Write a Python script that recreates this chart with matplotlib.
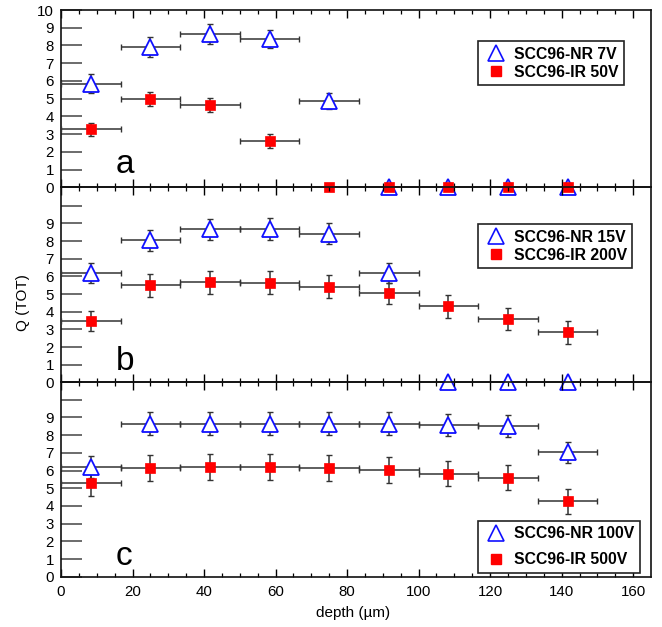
import numpy as np
import matplotlib
matplotlib.use("Agg")
import matplotlib.pyplot as plt
from matplotlib.lines import Line2D
from matplotlib.ticker import MultipleLocator, FixedLocator

plt.rcParams['font.family'] = ['Liberation Sans', 'DejaVu Sans']

# bin centres (depth, um) and half-widths
depth = [8.33, 25.0, 41.67, 58.33, 75.0, 91.67, 108.33, 125.0, 141.67]
half_width = [8.33] * 9

# panel a
nr_a = [5.85, 7.9, 8.65, 8.35, 4.85, 0, 0, 0, 0]
nr_a_err = [0.55, 0.55, 0.55, 0.5, 0.45, 0, 0, 0, 0]
ir_a = [3.27, 4.96, 4.66, 2.61, 0, 0, 0, 0, 0]
ir_a_err = [0.35, 0.4, 0.4, 0.38, 0, 0, 0, 0, 0]

# panel b
nr_b = [6.2, 8.05, 8.66, 8.69, 8.43, 6.2, 0, 0, 0]
nr_b_err = [0.58, 0.6, 0.58, 0.6, 0.6, 0.55, 0, 0, 0]
ir_b = [3.49, 5.5, 5.66, 5.64, 5.43, 5.04, 4.3, 3.6, 2.83]
ir_b_err = [0.56, 0.66, 0.66, 0.66, 0.66, 0.6, 0.64, 0.64, 0.64]

# panel c
nr_c = [6.22, 8.64, 8.64, 8.64, 8.64, 8.64, 8.59, 8.53, 7.02]
nr_c_err = [0.62, 0.64, 0.64, 0.64, 0.64, 0.64, 0.62, 0.62, 0.62]
ir_c = [5.28, 6.15, 6.21, 6.21, 6.15, 6.04, 5.83, 5.6, 4.25]
ir_c_err = [0.7, 0.72, 0.72, 0.72, 0.72, 0.72, 0.72, 0.72, 0.72]

labels_a = ["SCC96-NR 7V", "SCC96-IR 50V"]
labels_b = ["SCC96-NR 15V", "SCC96-IR 200V"]
labels_c = ["SCC96-NR 100V", "SCC96-IR 500V"]
panel_letters = ["a", "b", "c"]

W, H = 662, 627
fig = plt.figure(figsize=(W / 100, H / 100), dpi=100)

left_px, right_px = 61, 650.7
tops = [10, 187.3, 382.4]
bots = [187.3, 382.4, 576.7]
ylims = [(0, 10), (0, 11.05), (0, 10.98)]

panels = [
    (nr_a, nr_a_err, ir_a, ir_a_err, labels_a, 0.825, 0.2),
    (nr_b, nr_b_err, ir_b, ir_b_err, labels_b, 0.811, 0.2),
    (nr_c, nr_c_err, ir_c, ir_c_err, labels_c, 0.288, 0.7),
]
letter_y = [0.8, 0.7, 0.66]

BLUE = '#1010ff'
RED = '#ff0000'
ERRC = '#333333'

for i, (nr, nre, ir, ire, labs, legtop, lspace) in enumerate(panels):
    ax = fig.add_axes([left_px / W, 1 - bots[i] / H,
                       (right_px - left_px) / W, (bots[i] - tops[i]) / H])
    ax.patch.set_visible(False)
    ax.set_xlim(0, 164.9)
    ax.set_ylim(*ylims[i])

    x = np.array(depth)
    xe = np.array(half_width)
    for vals, errs, mk, kw in [
        (nr, nre, '^', dict(ms=12, mfc='white', mec=BLUE, mew=1.3)),
        (ir, ire, 's', dict(ms=6.5, mfc=RED, mec=RED, mew=0.5)),
    ]:
        v = np.array(vals)
        e = np.array(errs)
        nz = v > 0
        ax.errorbar(x[nz], v[nz], yerr=e[nz], xerr=xe[nz], fmt='none',
                    ecolor=ERRC, elinewidth=1.1, capsize=2, capthick=1,
                    zorder=3)
        ax.plot(x, v, linestyle='none', marker=mk, clip_on=False, zorder=5, **kw)

    ax.text(15.2, letter_y[i], panel_letters[i], fontsize=24, va='baseline',
            ha='left')

    handles = [Line2D([], [], linestyle='none', marker='^', ms=12, mfc='white',
                      mec=BLUE, mew=1.2),
               Line2D([], [], linestyle='none', marker='s', ms=7, mfc=RED,
                      mec=RED)]
    leg = ax.legend(handles, labs, loc='upper left',
                    bbox_to_anchor=(0.7066, legtop), frameon=True,
                    fancybox=False, edgecolor='#222222', framealpha=1,
                    prop=dict(weight='bold', size=11.3), labelspacing=lspace,
                    borderpad=0.35, handletextpad=0.35, handlelength=1.6,
                    borderaxespad=0)
    leg.get_frame().set_linewidth(1.2)
    leg.set_zorder(6)

    # ticks
    ax.yaxis.set_major_locator(FixedLocator(list(range(0, 11))))
    ax.tick_params(axis='y', which='major', direction='in', length=15,
                   width=1.1, color='#444444', labelsize=10.8, pad=5,
                   right=False)
    if i > 0:
        ax.set_yticklabels([str(k) for k in range(10)] + [''])
    ax.xaxis.set_major_locator(MultipleLocator(20))
    ax.xaxis.set_minor_locator(MultipleLocator(5))
    ax.tick_params(axis='x', which='major', direction='in', length=5.5,
                   width=1, top=True, labelsize=10.8, pad=6)
    ax.tick_params(axis='x', which='minor', direction='in', length=3,
                   width=0.9, top=True)
    if i < 2:
        ax.tick_params(axis='x', labelbottom=False)
    for s in ax.spines.values():
        s.set_linewidth(1.2)
        s.set_color('#111111')

fig.text(23 / W, 1 - 302.5 / H, "Q (TOT)", rotation=90, ha='center',
         va='center', fontsize=11)
fig.text(353 / W, 1 - 613 / H, "depth (\u00b5m)", ha='center', va='center',
         fontsize=11)

fig.savefig("out.png", dpi=100)
